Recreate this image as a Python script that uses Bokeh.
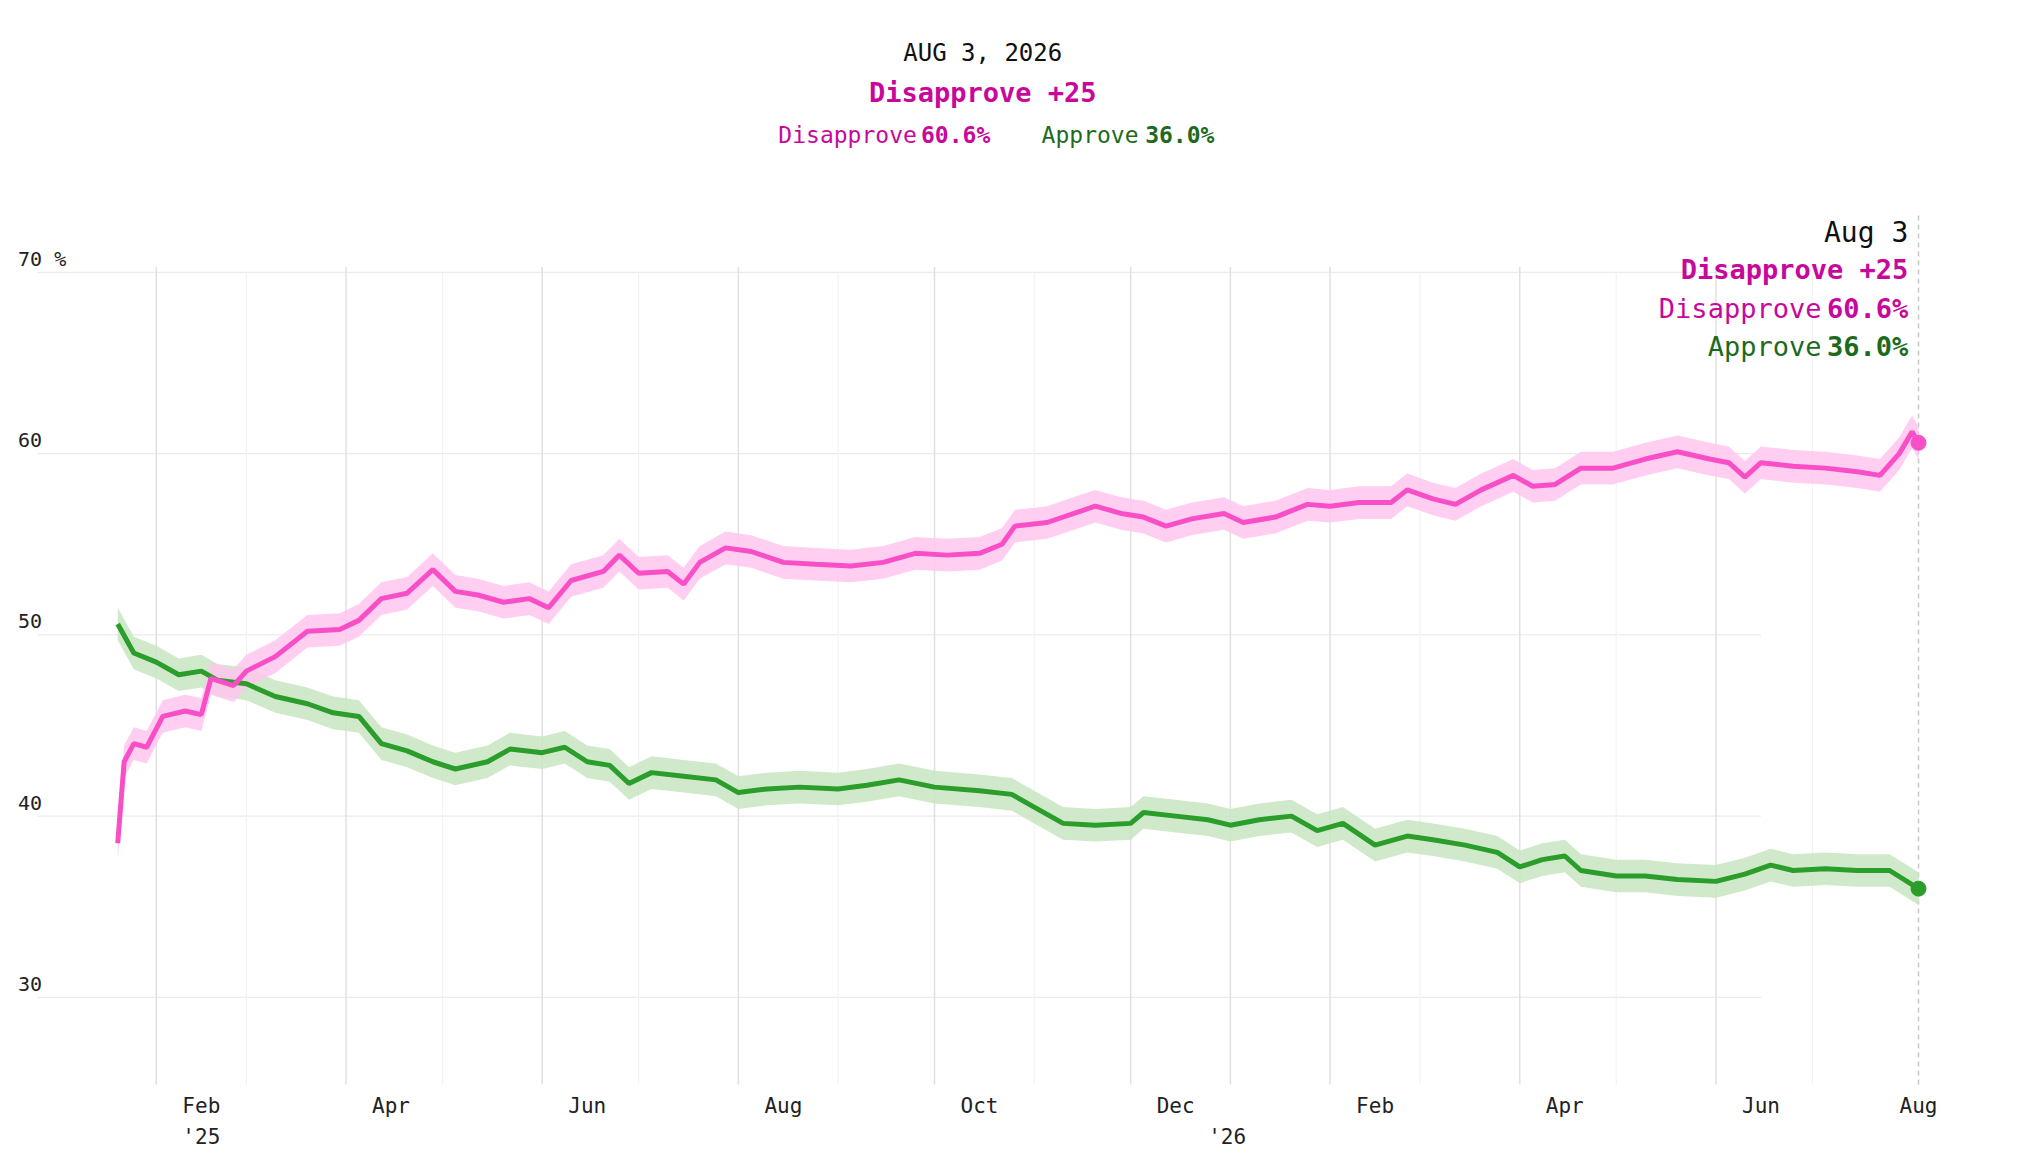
import pandas as pd
from bokeh.plotting import figure
from bokeh.models import ColumnDataSource
from bokeh.core.properties import value
from bokeh.embed import file_html
from bokeh.resources import INLINE

dis_dates = ["2025-01-20","2025-01-22","2025-01-25","2025-01-29","2025-02-03","2025-02-10","2025-02-15","2025-02-18","2025-02-25",
 "2025-03-01","2025-03-10","2025-03-20","2025-03-30","2025-04-05","2025-04-12","2025-04-20","2025-04-28","2025-05-05","2025-05-12",
 "2025-05-20","2025-05-28","2025-06-03","2025-06-10","2025-06-20","2025-06-25","2025-07-01","2025-07-10","2025-07-15","2025-07-20",
 "2025-07-28","2025-08-05","2025-08-15","2025-08-25","2025-09-05","2025-09-15","2025-09-25","2025-10-05","2025-10-15","2025-10-22",
 "2025-10-26","2025-11-05","2025-11-15","2025-11-20","2025-11-28","2025-12-05","2025-12-12","2025-12-20","2025-12-30","2026-01-05",
 "2026-01-15","2026-01-25","2026-02-01","2026-02-10","2026-02-20","2026-02-25","2026-03-05","2026-03-12","2026-03-20","2026-03-30",
 "2026-04-05","2026-04-12","2026-04-20","2026-04-30","2026-05-10","2026-05-20","2026-05-30","2026-06-05","2026-06-10","2026-06-15",
 "2026-06-25","2026-07-05","2026-07-15","2026-07-22","2026-07-28","2026-08-01","2026-08-03"]
dis_vals = [38.5,43,44,43.8,45.5,45.8,45.6,47.6,47.2,48,48.8,50.2,50.3,50.8,52,52.3,53.6,52.4,52.2,51.8,52,51.5,53,53.5,54.4,53.4,
 53.5,52.8,54,54.8,54.6,54,53.9,53.8,54,54.5,54.4,54.5,55,56,56.2,56.8,57.1,56.7,56.5,56,56.4,56.7,56.2,56.5,57.2,57.1,57.3,57.3,
 58,57.5,57.2,58,58.8,58.2,58.3,59.2,59.2,59.7,60.1,59.7,59.5,58.7,59.5,59.3,59.2,59,58.8,60,61.2,60.6]

app_dates = ["2025-01-20","2025-01-25","2025-02-01","2025-02-08","2025-02-15","2025-02-20","2025-03-01","2025-03-10","2025-03-20",
 "2025-03-28","2025-04-05","2025-04-12","2025-04-20","2025-04-28","2025-05-05","2025-05-15","2025-05-22","2025-06-01","2025-06-08",
 "2025-06-15","2025-06-22","2025-06-28","2025-07-05","2025-07-15","2025-07-25","2025-08-01","2025-08-10","2025-08-20","2025-09-01",
 "2025-09-10","2025-09-20","2025-10-01","2025-10-15","2025-10-25","2025-11-01","2025-11-10","2025-11-20","2025-12-01","2025-12-05",
 "2025-12-15","2025-12-25","2026-01-01","2026-01-10","2026-01-20","2026-01-28","2026-02-05","2026-02-15","2026-02-25","2026-03-05",
 "2026-03-15","2026-03-25","2026-04-01","2026-04-08","2026-04-15","2026-04-20","2026-05-01","2026-05-10","2026-05-20","2026-06-01",
 "2026-06-10","2026-06-18","2026-06-25","2026-07-05","2026-07-15","2026-07-25","2026-08-03"]
app_vals = [50.6,49,48.5,47.8,48,47.5,47.3,46.6,46.2,45.7,45.5,44,43.6,43,42.6,43,43.7,43.5,43.8,43,42.8,41.8,42.4,42.2,42,41.3,
 41.5,41.6,41.5,41.7,42,41.6,41.4,41.2,40.5,39.6,39.5,39.6,40.2,40,39.8,39.5,39.8,40,39.2,39.6,38.4,38.9,38.7,38.4,38,37.2,37.6,
 37.8,37,36.7,36.7,36.5,36.4,36.8,37.3,37,37.1,37,37,36.0]
margin = 0.9

y_ticks = [30, 40, 50, 60, 70]
y_tick_labels = ["30", "40", "50", "60", "70 %"]
month_labels = ["Feb","Apr","Jun","Aug","Oct","Dec","Feb","Apr","Jun","Aug"]
month_label_dates = ["2025-02-15","2025-04-15","2025-06-15","2025-08-15","2025-10-15","2025-12-15","2026-02-15","2026-04-15","2026-06-15","2026-08-03"]
year_labels = ["'25", "'26"]
year_label_dates = ["2025-02-15", "2025-12-31"]
major_months = ["2025-02-01","2025-04-01","2025-06-01","2025-08-01","2025-10-01","2025-12-01","2026-01-01","2026-02-01","2026-04-01","2026-06-01"]
minor_months = ["2025-03-01","2025-05-01","2025-07-01","2025-09-01","2025-11-01","2026-03-01","2026-05-01","2026-07-01"]

base = pd.Timestamp("2025-01-01")
def d(lst):
    return [(pd.Timestamp(s) - base).days for s in lst]

F = value("DejaVu Sans Mono")
PINK, PINKT, PINKB = "#f94fc6", "#c8089a", "#ffc6ee"
GREEN, GREENT, GREENB = "#2a9d2a", "#1d6a1d", "#c8e5c2"

p = figure(width=2010, height=1160, x_range=(-17.45, 607.6), y_range=(21.0, 85.0),
           output_backend="svg", toolbar_location=None, min_border=0)
p.axis.visible = False
p.grid.visible = False
p.outline_line_color = None

x0, x1 = -6, 530
for yt in y_ticks:
    p.line([x0, x1], [yt, yt], color="#ebebeb", line_width=1.3)
for m in d(major_months):
    p.line([m, m], [25.2, 70.3], color="#e0e0e0", line_width=1.5)
for m in d(minor_months):
    p.line([m, m], [25.2, 70.0], color="#f2f2f2", line_width=1.2)
end = d(["2026-08-03"])[0]
p.line([end, end], [25.2, 73.3], color="#c8c8c8", line_width=1.5, line_dash="5 4")

ad = d(app_dates); dd = d(dis_dates)
p.varea(ad, [v - margin for v in app_vals], [v + margin for v in app_vals], color=GREENB, alpha=0.85)
p.varea(dd, [v - margin for v in dis_vals], [v + margin for v in dis_vals], color=PINKB, alpha=0.85)
p.line(ad, app_vals, color=GREEN, line_width=5)
p.line(dd, dis_vals, color=PINK, line_width=5)
p.scatter([ad[-1]], [app_vals[-1]], size=15, color=GREEN)
p.scatter([dd[-1]], [dis_vals[-1]], size=15, color=PINK)

p.text([-12]*len(y_ticks), [t + 0.75 for t in y_ticks], text=y_tick_labels, text_font=F,
       text_font_size="20px", text_color="#222222", text_baseline="middle")
p.text(d(month_label_dates), [24.0]*len(month_labels), text=month_labels, text_font=F,
       text_font_size="21px", text_color="#222222", text_align="center", text_baseline="middle")
p.text(d(year_label_dates), [22.3]*2, text=year_labels, text_font=F,
       text_font_size="21px", text_color="#222222", text_align="center", text_baseline="middle")

cx = 288
p.text([cx], [82.08], text=["AUG 3, 2026"], text_font=F, text_font_size="24px", text_color="#111111",
       text_align="center", text_baseline="middle")
p.text([cx], [79.9], text=["Disapprove +25"], text_font=F, text_font_size="27px", text_font_style="bold",
       text_color=PINKT, text_align="center", text_baseline="middle")
p.text([267.5], [77.56], text=["Disapprove"], text_font=F, text_font_size="23px", text_color=PINKT,
       text_align="right", text_baseline="middle")
p.text([268.8], [77.56], text=["60.6%"], text_font=F, text_font_size="23px", text_font_style="bold",
       text_color=PINKT, text_align="left", text_baseline="middle")
p.text([306.3], [77.56], text=["Approve"], text_font=F, text_font_size="23px", text_color=GREENT,
       text_align="left", text_baseline="middle")
p.text([338.5], [77.56], text=["36.0%"], text_font=F, text_font_size="23px", text_font_style="bold",
       text_color=GREENT, text_align="left", text_baseline="middle")

rx = end - 3.2
p.text([rx], [72.2], text=["Aug 3"], text_font=F, text_font_size="28px", text_color="#111111",
       text_align="right", text_baseline="middle")
p.text([rx], [70.17], text=["Disapprove +25"], text_font=F, text_font_size="27px", text_font_style="bold",
       text_color=PINKT, text_align="right", text_baseline="middle")
p.text([rx], [68.0], text=["60.6%"], text_font=F, text_font_size="27px", text_font_style="bold",
       text_color=PINKT, text_align="right", text_baseline="middle")
p.text([rx - 27], [68.0], text=["Disapprove"], text_font=F, text_font_size="27px",
       text_color=PINKT, text_align="right", text_baseline="middle")
p.text([rx], [65.9], text=["36.0%"], text_font=F, text_font_size="27px", text_font_style="bold",
       text_color=GREENT, text_align="right", text_baseline="middle")
p.text([rx - 27], [65.9], text=["Approve"], text_font=F, text_font_size="27px",
       text_color=GREENT, text_align="right", text_baseline="middle")

open("out.html", "w").write(file_html(p, INLINE))
